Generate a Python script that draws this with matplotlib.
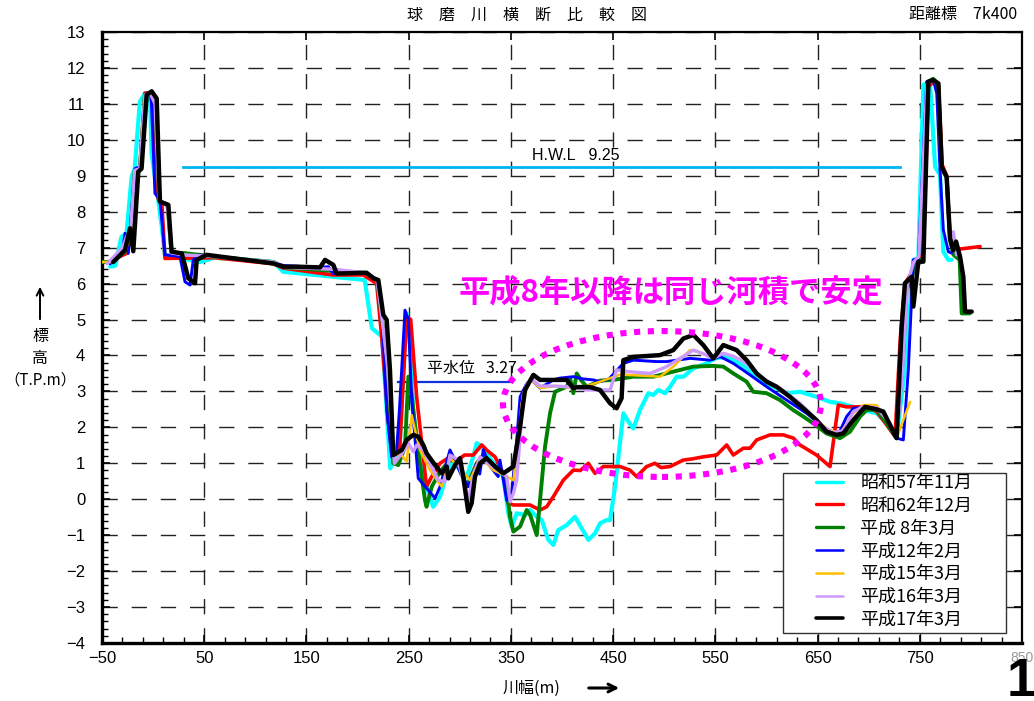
import numpy as np
import matplotlib
matplotlib.use("Agg")
import matplotlib.pyplot as plt
from matplotlib.patches import Ellipse, Rectangle
from matplotlib.ticker import FixedLocator, MultipleLocator

plt.rcParams['font.family'] = ['Noto Sans CJK JP', 'DejaVu Sans']

# ---- cross-section survey data: (distance m, elevation T.P.m) ----
s57_11 = [(-42, 6.47), (-37, 6.5), (-31, 7.3), (-26, 7.4), (-21, 8.97), (-18, 9.2), (-13, 11.06), (-8, 11.29),
          (-3, 11.2), (-1.5, 9.62), (5, 8.33), (8.5, 7.58), (11.5, 6.8), (46, 6.6), (60, 6.72), (118, 6.6),
          (127, 6.33), (207, 6.1), (214, 4.76), (224, 4.52), (232, 0.86), (241.5, 1.56), (246.4, 4.71),
          (248.1, 5.17), (251.3, 4.34), (254.5, 2.39), (261, 1.09), (267.5, 0.35), (274, -0.21), (280.7, 0.07),
          (287.2, 0.72), (293.7, 1.09), (300.2, 0.81), (306.8, 0.63), (313.2, 1.18), (316.5, 1.56), (320, 1.5),
          (329.6, 1.14), (342.6, 0.63), (347.5, -0.39), (350.8, -0.76), (355.7, -0.39), (363.8, -0.44),
          (368.7, -0.3), (375.3, -0.49), (380.2, -0.58), (386.6, -1.13), (391.5, -1.27), (396.4, -0.86),
          (404.6, -0.72), (412.7, -0.49), (419.3, -0.81), (425.8, -1.13), (432.3, -0.95), (437.2, -0.67),
          (443.7, -0.58), (447, -0.58), (451.9, 0.35), (460, 2.39), (464.9, 2.16), (469.8, 1.97), (476.3, 2.48),
          (484.5, 2.95), (489.3, 2.9), (494.2, 3.04), (500.8, 2.95), (505.7, 3.13), (512.2, 3.41), (518.7, 3.41),
          (528.5, 3.64), (541.5, 3.78), (549.7, 3.92), (561.1, 3.97), (574.1, 3.78), (587.1, 3.5), (600.2, 3.22),
          (619.7, 2.95), (632.8, 2.99), (649, 2.85), (662.2, 2.71), (672, 2.67), (685, 2.57), (694.8, 2.48),
          (707.8, 2.39), (720.9, 2.02), (727.3, 1.7), (737, 4.0), (743.7, 6.66), (748.6, 6.7), (753.5, 11.53),
          (760, 11.6), (765, 9.25), (769.8, 9.02), (773, 6.89), (777.9, 6.66), (781, 6.66)]

s62_12 = [(-44, 6.6), (-26, 6.84), (-22, 7.3), (-17, 9.1), (-13, 9.2), (-8, 11.3), (-3, 11.3), (1, 10.7),
          (5, 8.35), (8.5, 8.25), (11.6, 6.7), (60, 6.72), (118, 6.55), (127.4, 6.43), (176, 6.24), (205.6, 6.24),
          (218.7, 6.0), (223.6, 4.52), (230, 2.2), (234, 1.2), (241, 1.3), (248.1, 5.08), (252, 5.0),
          (257.8, 2.85), (267.5, 0.35), (272, 0.6), (280.7, 1.0), (290.4, 1.18), (296, 1.05), (304.7, 1.23),
          (313.2, 1.23), (321.5, 1.51), (327, 1.35), (334.5, 1.18), (342.6, 0.72), (347.5, -0.11), (352.4, -0.16),
          (368.7, -0.16), (378.5, -0.3), (385, -0.21), (391.5, 0.07), (401.3, 0.53), (411.1, 0.81), (418, 0.8),
          (425.8, 1.0), (432.3, 0.72), (440.5, 0.91), (453.4, 0.91), (456.7, 0.91), (466.5, 0.81), (473, 0.63),
          (482.8, 0.91), (490.9, 1.0), (497, 0.88), (505.7, 0.91), (518.7, 1.09), (527, 1.12), (538.2, 1.18),
          (551.3, 1.23), (561.1, 1.51), (567.6, 1.23), (577.4, 1.42), (584, 1.42), (590.4, 1.65), (603.5, 1.79),
          (616.5, 1.79), (626.3, 1.7), (632.8, 1.51), (649, 1.23), (662.2, 0.91), (670.3, 2.62), (678.4, 2.57),
          (688.2, 2.57), (698, 2.57), (707.8, 2.44), (717.6, 2.07), (725.8, 1.74), (731, 4.5), (735.5, 6.0),
          (742, 6.3), (748, 6.7), (753.5, 6.8), (758.4, 11.5), (763.3, 11.6), (768.2, 11.5), (772, 9.3),
          (776.3, 9.0), (779.6, 7.3), (783, 6.9), (786, 6.95), (809, 7.03)]

h08_03 = [(-50, 6.6), (-40, 6.6), (-27, 6.9), (-22, 7.4), (-18, 9.15), (-13, 9.2), (-8, 11.25), (-3, 11.3),
          (2, 11.0), (6, 8.3), (14, 8.2), (18, 6.85), (30, 6.85), (60, 6.75), (118, 6.6), (128, 6.45),
          (176, 6.35), (208, 6.3), (219, 6.1), (224, 5.0), (229, 3.8), (234.9, 1.0), (239.8, 0.95),
          (246.4, 1.46), (249.7, 3.41), (253, 2.9), (258, 1.6), (266, -0.03), (267.5, -0.21), (272.6, 0.35),
          (280.7, 0.77), (290.4, 1.09), (298, 1.05), (306.8, 0.35), (316.5, 1.0), (323, 1.23), (332.8, 0.91),
          (342.6, 0.72), (347.5, -0.11), (349.2, -0.49), (352.4, -0.9), (359, -0.76), (365.5, -0.3),
          (369, -0.45), (375.3, -1.0), (383.4, 1.46), (388.3, 2.39), (393.2, 2.99), (398.1, 3.05), (404.6, 3.13),
          (408, 3.36), (411.1, 2.95), (414.4, 3.5), (419, 3.3), (424.2, 3.13), (437.2, 3.3), (450.2, 3.32),
          (469.8, 3.41), (489.3, 3.41), (508.9, 3.55), (528.5, 3.69), (548, 3.71), (557.8, 3.69), (567.6, 3.5),
          (580.6, 3.27), (587.1, 2.99), (600.2, 2.95), (613.2, 2.76), (626.3, 2.48), (636.1, 2.3), (645.9, 2.11),
          (658.8, 1.83), (672, 1.7), (681.8, 1.88), (691.6, 2.3), (698, 2.48), (707.8, 2.5), (717.6, 2.11),
          (727.3, 1.7), (733.8, 4.06), (737, 5.8), (742, 6.2), (748, 6.6), (753, 6.7), (757.5, 11.6),
          (763, 11.7), (768, 11.55), (771.4, 9.2), (776.3, 8.95), (779.6, 7.2), (783, 6.8), (789, 6.66),
          (791, 5.17), (799, 5.17)]

h12_02 = [(-42, 6.55), (-30, 6.9), (-27.5, 7.4), (-24.3, 6.84), (-17.7, 9.2), (-12.8, 9.25), (-6.3, 11.3),
          (-2, 11.3), (1.8, 8.51), (6.7, 8.33), (11.6, 6.8), (26.3, 6.75), (31.2, 6.05), (36.1, 5.96),
          (39.3, 6.66), (45, 6.8), (118, 6.58), (128, 6.5), (165, 6.45), (171.4, 6.47), (176.3, 6.28),
          (209, 6.3), (219, 6.1), (224, 5.1), (228.5, 2.48), (233.4, 1.18), (238, 1.3), (241, 2.5),
          (246.4, 5.26), (249.7, 4.99), (253, 2.76), (259.4, 0.58), (275.8, 0.03), (280.7, 0.35), (290.4, 1.37),
          (295.3, 1.09), (301, 0.7), (308.3, 0.35), (316.5, 1.0), (319.5, 0.7), (323, 1.37), (330, 0.9),
          (337.6, 0.63), (339.3, 1.09), (345.9, -0.03), (350.8, 0.16), (355.7, 1.65), (359, 2.85), (365.5, 3.22),
          (370.4, 3.32), (378.5, 3.09), (391.5, 3.32), (398, 3.37), (411.1, 3.41), (420, 3.35), (430.7, 3.32),
          (437.2, 3.27), (446, 3.35), (460, 3.78), (469.8, 3.87), (492.6, 3.83), (502.4, 3.83), (525.2, 3.92),
          (544.8, 3.87), (554.6, 3.97), (567.6, 3.78), (583.9, 3.46), (600.2, 3.13), (619.7, 2.76), (639.3, 2.39),
          (655.6, 2.02), (665.4, 1.83), (672, 1.9), (678.4, 2.3), (685, 2.53), (698, 2.56), (711, 2.48),
          (720.9, 2.11), (727.3, 1.7), (733.9, 1.65), (738.8, 3.6), (743.7, 6.66), (748.6, 6.7), (756.8, 11.62),
          (763.3, 11.66), (766.6, 11.29), (769.8, 9.16), (773, 7.5), (777.9, 6.89), (781, 6.85)]

h15_03 = [(-50, 6.6), (-40, 6.6), (-27, 6.9), (-22, 7.4), (-18, 9.15), (-13, 9.2), (-8, 11.25), (-3, 11.3),
          (2, 11.0), (6, 8.3), (14, 8.2), (18, 6.85), (30, 6.8), (60, 6.75), (118, 6.6), (128, 6.45),
          (176, 6.4), (208, 6.3), (219, 6.1), (224, 5.0), (229, 3.8), (236.6, 1.0), (241.5, 1.28), (248.1, 1.05),
          (253, 2.34), (256.2, 1.93), (261.1, 1.37), (270.9, 0.81), (282.3, 0.35), (290.4, 1.14), (298, 0.95),
          (310, 0.53), (319.8, 1.18), (332.8, 0.81), (345.9, 0.63), (352.4, 0.53), (357.3, 1.65), (360.5, 2.67),
          (363.8, 2.9), (368.7, 3.36), (378.5, 3.09), (395, 3.15), (411.1, 3.09), (424, 3.15), (437.2, 3.27),
          (460, 3.5), (463.2, 3.46), (495.9, 3.41), (508.9, 3.69), (525.2, 4.15), (533, 4.1), (548, 3.92),
          (557.8, 4.06), (567, 3.98), (577.4, 3.87), (593.7, 3.41), (613.2, 3.04), (632.8, 2.67), (649, 2.2),
          (660, 1.95), (672, 1.83), (685, 2.39), (694.8, 2.62), (707.8, 2.62), (717.6, 2.2), (727.3, 1.7),
          (740.5, 2.71)]

h16_03 = [(-45, 6.55), (-30, 7.0), (-26, 7.3), (-22, 7.5), (-18, 9.15), (-13, 9.2), (-8, 11.25), (-3, 11.3),
          (2, 11.0), (6, 8.3), (14, 8.2), (18, 6.85), (30, 6.8), (60, 6.75), (118, 6.6), (128, 6.45),
          (176, 6.4), (208, 6.3), (219, 6.1), (224, 5.0), (229, 3.8), (236, 1.0), (244, 1.3), (249.7, 1.56),
          (254.5, 1.32), (257.8, 1.51), (264.3, 1.37), (279, 0.53), (285.5, 0.49), (290.4, 1.23), (298, 1.1),
          (308.3, -0.02), (312, 0.5), (319.8, 1.18), (329.6, 0.95), (339.3, 0.77), (345.9, 0.63), (349.2, -0.07),
          (352.4, 0.16), (355.7, 0.53), (359, 1.74), (362, 2.9), (365.5, 3.22), (370, 3.35), (378.5, 3.15),
          (392, 3.15), (411, 3.12), (424.2, 3.04), (443.7, 3.04), (447, 3.04), (453.4, 3.6), (465, 3.55),
          (486.1, 3.5), (502.4, 3.69), (515.5, 3.92), (528.5, 4.15), (538, 4.05), (548, 3.92), (557.8, 4.06),
          (567.6, 3.98), (580.6, 3.78), (593.7, 3.41), (613.2, 3.09), (632.8, 2.67), (645.9, 2.3), (655.6, 2.02),
          (665, 1.85), (675, 1.9), (685, 2.44), (694.8, 2.57), (707.8, 2.55), (720.9, 2.11), (727.3, 1.7),
          (733, 3.5), (738, 6.0), (744, 6.6), (749, 6.75), (757, 11.55), (763, 11.65), (768, 11.55),
          (771, 9.25), (776, 8.95), (779.6, 7.3), (782.8, 7.44), (786, 6.8)]

h17_03 = [(-39, 6.6), (-27.5, 6.93), (-22.6, 7.54), (-19.4, 6.9), (-14.5, 9.11), (-11.3, 9.2), (-6.3, 11.25),
          (-1.4, 11.35), (3.5, 11.15), (6.7, 8.28), (14.9, 8.19), (18.1, 6.89), (28, 6.84), (34.4, 6.15),
          (41, 6.01), (42.6, 6.66), (52.4, 6.8), (117.6, 6.56), (127.4, 6.47), (140.4, 6.47), (163.3, 6.45),
          (168.2, 6.66), (176.3, 6.52), (179.6, 6.28), (208.9, 6.3), (215.4, 6.15), (220.3, 6.1), (225.2, 5.13),
          (228.5, 4.99), (231.7, 3.6), (234.9, 1.23), (243.2, 1.37), (248.1, 1.65), (254.5, 1.79), (259.4, 1.74),
          (264.3, 1.51), (267.5, 1.28), (275.8, 0.95), (282.3, 0.72), (287.2, 0.91), (288.8, 0.58), (295.3, 0.95),
          (300.2, 1.14), (303.4, 0.63), (308.3, -0.35), (311.6, -0.11), (314.9, 0.63), (319.8, 1.0), (326.3, 1.14),
          (334.5, 0.91), (342.6, 0.72), (352.4, 0.91), (359, 2.02), (363.8, 3.04), (372, 3.46), (378.5, 3.32),
          (404.6, 3.32), (411.1, 3.09), (414.4, 3.12), (427.4, 3.12), (437.2, 3.04), (447, 2.67), (453.4, 2.53),
          (458.3, 2.81), (460, 3.87), (469.8, 3.96), (495.9, 4.01), (508.9, 4.15), (518.7, 4.47), (528.5, 4.57),
          (538.2, 4.29), (548, 3.92), (557.8, 4.29), (570.8, 4.15), (580.6, 3.87), (590.4, 3.5), (600.2, 3.27),
          (609.9, 3.13), (623, 2.85), (636, 2.53), (649, 2.2), (658.8, 1.88), (668.6, 1.79), (675.1, 1.83),
          (684.9, 2.2), (696.4, 2.57), (707.8, 2.5), (714.3, 2.44), (727.3, 1.7), (732.3, 4.8), (735.5, 6.01),
          (742.1, 6.19), (743.7, 5.36), (748.6, 6.61), (753.5, 6.61), (758.4, 11.62), (763.3, 11.66),
          (768.2, 11.57), (771.4, 9.25), (776.3, 8.97), (779.6, 7.26), (782.8, 6.93), (785.5, 7.17),
          (789.4, 6.75), (792.6, 6.19), (794.3, 5.22), (800.8, 5.22)]

series_labels = ["昭和57年11月", "昭和62年12月", "平成 8年3月", "平成12年2月",
                 "平成15年3月", "平成16年3月", "平成17年3月"]
series_data = [s57_11, s62_12, h08_03, h12_02, h15_03, h16_03, h17_03]
series_colors = ["#00FFFF", "#FF0000", "#008000", "#0000FF", "#FFC000", "#CC99FF", "#000000"]
series_widths = [3.0, 2.6, 2.8, 2.1, 1.8, 2.4, 3.2]
legend_widths = [2.4, 2.4, 2.4, 1.8, 1.8, 1.8, 2.6]

hwl_level = 9.25
hwl_span = (29, 731)
normal_level = 3.27
normal_span = (239.6, 349)

x_ticks = [-50, 50, 150, 250, 350, 450, 550, 650, 750, 850]
y_ticks = list(range(-4, 14))

# ---- figure ----
W, H = 1034, 701
fig = plt.figure(figsize=(W / 100, H / 100), dpi=100)
AX_L, AX_R, AX_T, AX_B = 102, 1022, 32, 643
ax = fig.add_axes([AX_L / W, 1 - AX_B / H, (AX_R - AX_L) / W, (AX_B - AX_T) / H])


def fx(px):
    return px / W


def fy(py):
    return 1 - py / H


def axx(px):
    return (px - AX_L) / (AX_R - AX_L)


def axy(py):
    return (AX_B - py) / (AX_B - AX_T)


ax.set_xlim(-50, 850)
ax.set_ylim(-4, 13)

# dashed grid
ax.set_xticks(x_ticks)
ax.set_yticks(y_ticks)
ax.grid(True, which='major', color='#222222', linewidth=1.0, linestyle=(0, (11, 10)))
ax.set_axisbelow(True)

ax.xaxis.set_minor_locator(FixedLocator(np.arange(-50, 851, 20)))
ax.yaxis.set_minor_locator(MultipleLocator(0.2))
ax.tick_params(which='major', direction='in', length=6, width=1.2, top=True, right=True,
               labelsize=12, colors='black')
ax.tick_params(which='minor', direction='in', length=4, width=1.0)
ax.tick_params(axis='y', which='major', pad=12)
ax.tick_params(axis='x', which='major', pad=6)
ax.tick_params(axis='y', which='minor', right=False)
ax.tick_params(axis='x', which='minor', top=False)
ax.set_xticklabels([str(v) if v >= 0 else "\u2212" + str(-v) for v in x_ticks])
ax.set_yticklabels([str(v) if v >= 0 else "\u2212" + str(-v) for v in y_ticks])
for lbl in ax.get_xticklabels() + ax.get_yticklabels():
    lbl.set_family(['Liberation Sans', 'DejaVu Sans'])
ax.get_xticklabels()[-1].set_color('#9a9a9a')
ax.get_xticklabels()[-1].set_fontsize(10)

for side in ['left', 'bottom']:
    ax.spines[side].set_linewidth(2.4)
for side in ['top', 'right']:
    ax.spines[side].set_linewidth(1.6)

# reference water levels
ax.plot(hwl_span, [hwl_level, hwl_level], color='#00B4F0', lw=2.0, zorder=3)
ax.text(371, hwl_level + 0.32, "H.W.L   %.2f" % hwl_level, fontsize=11.5,
        family=['Liberation Sans', 'DejaVu Sans'], ha='left', va='center', zorder=6)
ax.plot(normal_span, [normal_level, normal_level], color='#1030E0', lw=1.6, zorder=3)
ax.text(268, normal_level + 0.38, "平水位   %.2f" % normal_level, fontsize=11.5,
        ha='left', va='center', zorder=6)

# cross-section profiles
handles = []
for pts, lab, col, lw in zip(series_data, series_labels, series_colors, series_widths):
    xs = [p[0] for p in pts]
    ys = [p[1] for p in pts]
    h, = ax.plot(xs, ys, color=col, lw=lw, label=lab, solid_joinstyle='round',
                 solid_capstyle='round', zorder=4)
    handles.append(h)

# highlighted zone
ell = Ellipse((497.8, 2.65), 311, 4.06, fill=False, edgecolor='#FF00FF', lw=4.4,
              linestyle=(0, (1, 1.25)), zorder=5)
ax.add_patch(ell)
ax.text(507, 5.74, "平成8年以降は同じ河積で安定", color='#FF00FF', fontsize=22.5,
        fontweight='bold', ha='center', va='center', zorder=6)

# legend: white panel with thin black border, entries laid on top
panel = Rectangle((axx(783), axy(633)), axx(1006) - axx(783), axy(473) - axy(633),
                  transform=ax.transAxes, facecolor='white', edgecolor='#333333', lw=1.0,
                  zorder=7, clip_on=False)
ax.add_patch(panel)
leg = ax.legend(handles=handles, loc='upper left', bbox_to_anchor=(axx(816), axy(474)),
                prop={'size': 13}, frameon=False, handlelength=1.5, handletextpad=0.95,
                labelspacing=0.265, borderpad=0, borderaxespad=0)
for ln, lw in zip(leg.get_lines(), legend_widths):
    ln.set_linewidth(lw)
    ln.set_solid_capstyle('round')
leg.set_zorder(8)

# titles and axis captions
fig.text(fx(527), fy(15), "球　磨　川　横　断　比　較　図", fontsize=11.5, ha='center', va='center')
fig.text(fx(1017), fy(15), "距離標　7k400", fontsize=11.5, ha='right', va='center')

plt.annotate('', xy=(fx(40), fy(284)), xytext=(fx(40), fy(322)),
             xycoords='figure fraction', textcoords='figure fraction',
             arrowprops=dict(arrowstyle='->', lw=1.4, color='black', mutation_scale=12))
fig.text(fx(40), fy(336), "標", fontsize=11.5, ha='center', va='center')
fig.text(fx(40), fy(358), "高", fontsize=11.5, ha='center', va='center')
fig.text(fx(40), fy(380), "（T.P.m）", fontsize=11, ha='center', va='center')

fig.text(fx(532), fy(688), "川幅(m)", fontsize=11.5, ha='center', va='center')
plt.annotate('', xy=(fx(622), fy(688)), xytext=(fx(586), fy(688)),
             xycoords='figure fraction', textcoords='figure fraction',
             arrowprops=dict(arrowstyle='->', lw=2.2, color='black', mutation_scale=14))

# page number in the corner
fig.text(fx(1021), fy(682), "1", fontsize=38, fontweight='bold', ha='center', va='center',
         family=['Liberation Sans', 'DejaVu Sans'])

fig.savefig("out.png", dpi=100)
